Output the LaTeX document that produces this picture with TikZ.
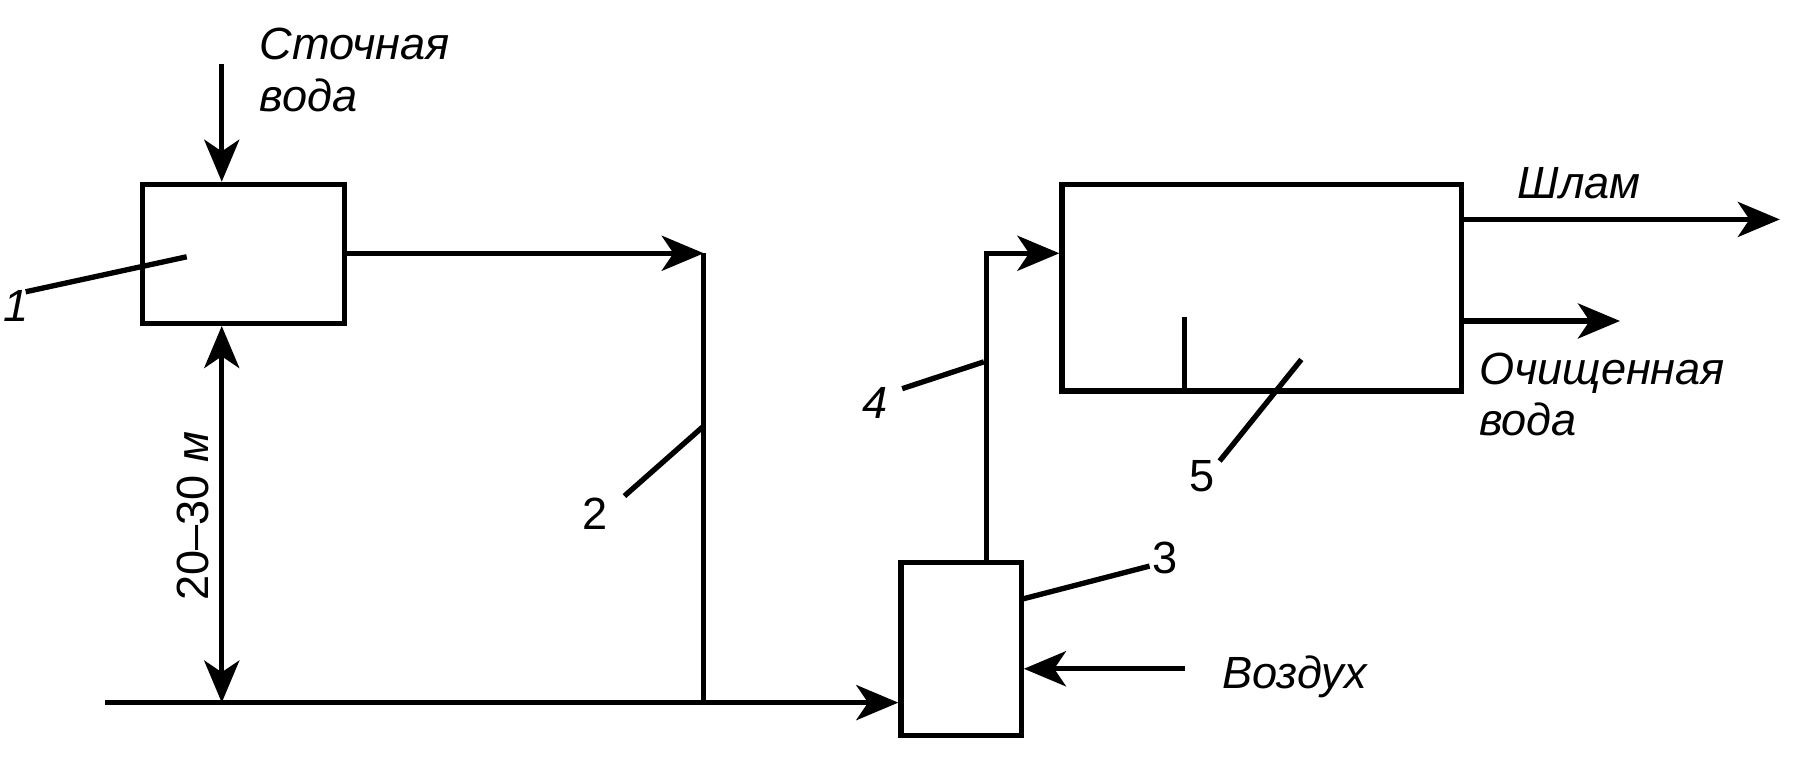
\documentclass[tikz,border=0pt]{standalone}
\usepackage{fontspec}
\setmainfont{Liberation Sans}
\usetikzlibrary{positioning,arrows.meta}
\tikzset{every picture/.style={line width=1.3pt}}

\begin{document}
\begin{tikzpicture}[x=0.1mm,y=-0.1mm,
    unit/.style={draw, inner sep=0pt},
    flow/.style={-{Stealth[length=3.6mm,width=3mm,inset=1mm]}},
    txt/.style={font=\fontsize{11}{12.5}\selectfont\itshape, inner sep=0pt},
    num/.style={font=\fontsize{11}{12.5}\selectfont, inner sep=0pt}]
  \useasboundingbox (0,0) rectangle (1550,662);
  % units
  \node[unit, minimum width=17.3mm, minimum height=11.9mm] (tank) at (208.5,217.5) {};
  \node[unit, minimum width=10.3mm, minimum height=14.8mm] (satur) at (823.5,556) {};
  \node[unit, minimum width=34.2mm, minimum height=17.7mm] (flot) at (1081,246.5) {};
  % points on the pipes
  \coordinate (src) at (190,55);
  \coordinate (riser) at (603,217);
  \coordinate (riserfoot) at (603,602);
  \coordinate (inlet) at (90,602);
  \coordinate (dimfoot) at (190,602);
  \coordinate (airsrc) at (1015,573);
  \coordinate (pipetop) at (845,217);
  \coordinate (sludge) at (1525,188);
  \coordinate (clean) at (1388,275);
  % texts
  \node[txt, anchor=north west, align=left] (wastewater) at (220,22) {Сточная\\вода};
  \node[txt, anchor=base west] (sludgetxt) at (1298,170) {Шлам};
  \node[txt, anchor=north west, align=left] (cleantxt) at (1265,300) {Очищенная\\вода};
  \node[txt, anchor=base west] (air) at (1045,590) {Воздух};
  \node[num, rotate=90] (height) at (165,442) {20–30 \textit{м}};
  % flows
  \draw[flow] (src) -- (src |- tank.north);
  \draw[flow] (tank.east |- riser) -- (riser);
  \draw (riser) -- (riserfoot);
  \draw[flow] (inlet) -- (satur.west |- inlet);
  \draw[flow] (airsrc) -- (satur.east |- airsrc);
  \draw[flow] (satur.north -| pipetop) -- (pipetop) -- (flot.west |- pipetop);
  \draw[flow] (flot.east |- sludge) -- (sludge);
  \draw[flow] (flot.east |- clean) -- (clean);
  \draw[{Stealth[length=3.6mm,width=3mm,inset=1mm]}-{Stealth[length=3.6mm,width=3mm,inset=1mm]}]
    (tank.south -| dimfoot) -- (dimfoot);
  \draw (1015,272) -- (1015,335);
  % numbers
  \node[num] (n1) at (14,262) {\textit{1}};
  \node[num] (n2) at (510,440) {2};
  \node[num] (n3) at (998,478) {3};
  \node[num] (n4) at (750,345) {\textit{4}};
  \node[num] (n5) at (1030,408) {5};
  \foreach \xa/\ya/\xb/\yb in {22/250/160/220, 535/425/603/365, 877/513/985/485, 773/333/843/310, 1045/395/1115/308}{
    \draw (\xa,\ya) -- (\xb,\yb);
  }
\end{tikzpicture}
\end{document}
